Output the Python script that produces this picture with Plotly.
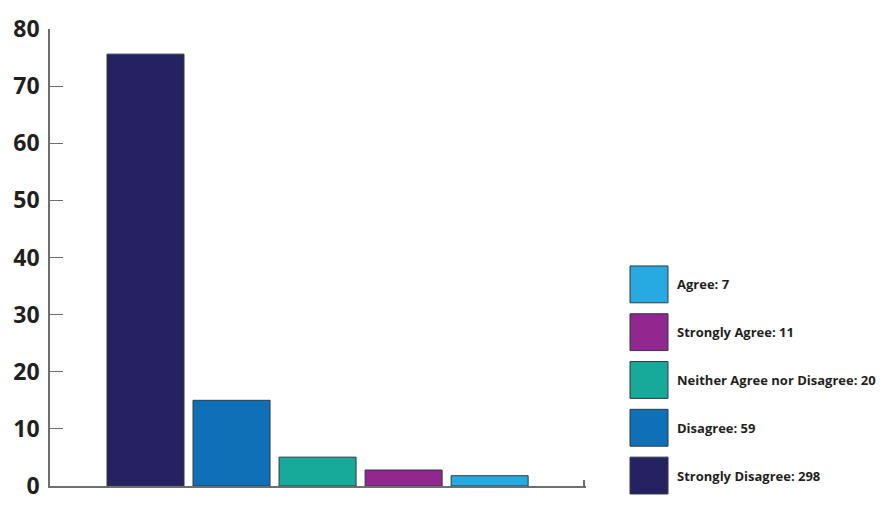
import plotly.graph_objects as go

categories = ["Strongly Disagree", "Disagree", "Neither Agree nor Disagree", "Strongly Agree", "Agree"]
counts = [298, 59, 20, 11, 7]
percent = [75.6, 15.0, 5.05, 2.8, 1.8]
colors = ["#262262", "#0f70b7", "#17a99a", "#92278f", "#27aae1"]
y_ticks = [0, 10, 20, 30, 40, 50, 60, 70, 80]

W, H = 885, 513
L, R, T, B = 50, 586, 29, 488

fig = go.Figure()
fig.add_trace(go.Bar(
    x=list(range(len(categories))), y=percent,
    marker=dict(color=colors, line=dict(color="#2b3a42", width=1)),
    width=0.895, showlegend=False, hoverinfo="skip",
))

def px_x(p):
    return (p - L) / (R - L)

def px_y(p):
    return (B - p) / (B - T)

shapes = []
annotations = []
legend_order = list(reversed(range(len(categories))))
for i, k in enumerate(legend_order):
    top = 267 + 48 * i
    shapes.append(dict(type="rect", xref="paper", yref="paper",
                       x0=px_x(630), x1=px_x(668), y0=px_y(top + 37), y1=px_y(top),
                       fillcolor=colors[k], line=dict(color="#2b3a42", width=1)))
    annotations.append(dict(xref="paper", yref="paper", x=px_x(675), y=px_y(top + 18.5),
                            text=f"{categories[k]}: {counts[k]}", showarrow=False,
                            xanchor="left", yanchor="middle",
                            font=dict(family="Open Sans", size=13, color="#231f20", weight="bold")))

fig.update_layout(
    width=W, height=H,
    margin=dict(l=L, r=W - R, t=T, b=H - B),
    paper_bgcolor="white", plot_bgcolor="white",
    shapes=shapes, annotations=annotations,
    xaxis=dict(range=[-1.11, 5.12], showgrid=False, zeroline=False,
               showline=True, linecolor="#6d6e71", linewidth=1.5,
               tickvals=[5.1], ticktext=[""], ticks="inside", ticklen=6,
               tickcolor="#6d6e71", tickwidth=1.5),
    yaxis=dict(range=[0, 80], tickvals=y_ticks, showgrid=False, zeroline=False,
               showline=True, linecolor="#6d6e71", linewidth=1.5,
               ticks="inside", ticklen=13, tickcolor="#6d6e71", tickwidth=1.2,
               tickfont=dict(family="Open Sans", size=23, color="#231f20", weight="bold"),
               ticklabelstandoff=4),
)

fig.write_html("out.html", config={"displayModeBar": False},
               post_script="document.body.style.margin='0';document.body.style.padding='0';")
